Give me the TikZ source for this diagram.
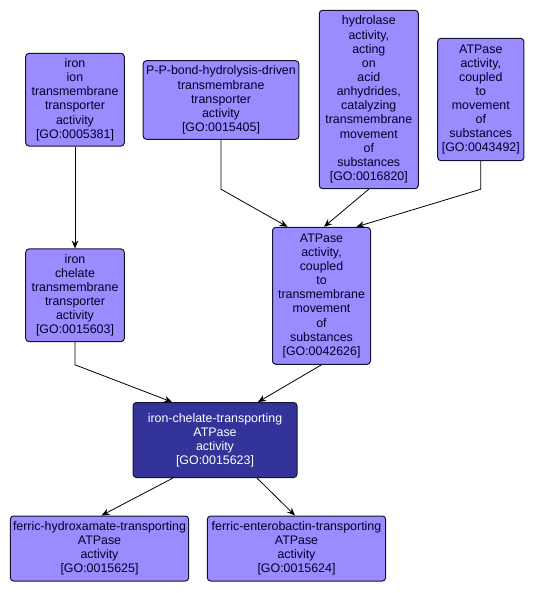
\documentclass[tikz,border=0pt]{standalone}
\usepackage{fontspec}
\setmainfont{Liberation Sans}
\usepackage{xcolor}
\usepackage{tikz}
\usetikzlibrary{calc,arrows.meta}

\definecolor{termfill}{RGB}{154,140,255}
\definecolor{focusfill}{RGB}{51,51,153}
\definecolor{termline}{RGB}{20,20,50}

\begin{document}
\begin{tikzpicture}[
    x=0.75pt, y=-0.75pt,
    term/.style={draw=termline, rounded corners=2.5pt, align=center, inner sep=0pt,
                 font=\fontsize{9.3}{10.6}\selectfont, fill=termfill, text=black!85!blue,
                 line width=0.75pt},
    arrow/.style={-{Stealth[length=6pt,width=5pt,inset=2pt]}, line width=0.6pt}
  ]
    \useasboundingbox (0,0) rectangle (534,593);
    % top row
    \node[term, minimum width=74pt, minimum height=69.5pt] (t5381) at (75,99.7)
      {iron\\ion\\transmembrane\\transporter\\activity\\{[GO:0005381]}};
    \node[term, minimum width=116.8pt, minimum height=59pt] (t15405) at (221,100)
      {P-P-bond-hydrolysis-driven\\transmembrane\\transporter\\activity\\{[GO:0015405]}};
    \node[term, minimum width=74.3pt, minimum height=133.8pt] (t16820) at (368.8,99.5)
      {hydrolase\\activity,\\acting\\on\\acid\\anhydrides,\\catalyzing\\transmembrane\\movement\\of\\substances\\{[GO:0016820]}};
    \node[term, minimum width=64.7pt, minimum height=91.8pt] (t43492) at (480.8,99.5)
      {ATPase\\activity,\\coupled\\to\\movement\\of\\substances\\{[GO:0043492]}};
    % middle row
    \node[term, minimum width=74pt, minimum height=69.5pt] (t15603) at (75,295.3)
      {iron\\chelate\\transmembrane\\transporter\\activity\\{[GO:0015603]}};
    \node[term, minimum width=73.5pt, minimum height=102.75pt] (t42626) at (321.5,295.8)
      {ATPase\\activity,\\coupled\\to\\transmembrane\\movement\\of\\substances\\{[GO:0042626]}};
    % focus term
    \node[term, fill=focusfill, text=white, minimum width=123pt, minimum height=56.25pt] (t15623) at (215,440)
      {iron-chelate-transporting\\ATPase\\activity\\{[GO:0015623]}};
    % bottom row
    \node[term, minimum width=133.8pt, minimum height=48.75pt] (t15625) at (99.5,548.5)
      {ferric-hydroxamate-transporting\\ATPase\\activity\\{[GO:0015625]}};
    \node[term, minimum width=133.8pt, minimum height=48.75pt] (t15624) at (296.5,548.5)
      {ferric-enterobactin-transporting\\ATPase\\activity\\{[GO:0015624]}};

    \draw[arrow] (t5381) -- (t15603);
    \draw[arrow] (t15405.south) -- (t15405.south |- t16820.south) -- ($(t42626.north)+(-34,0)$);
    \draw[arrow] (t16820.south) -- ($(t42626.north)+(2.5,0)$);
    \draw[arrow] (t43492.south) -- (t43492.south |- t16820.south) -- ($(t42626.north)+(35,0)$);
    \draw[arrow] (t15603.south) -- (t15603.south |- t42626.south) -- ($(t15623.north)+(-43,0)$);
    \draw[arrow] (t42626.south) -- ($(t15623.north)+(43,0)$);
    \draw[arrow] ($(t15623.south)+(-42,0)$) -- ($(t15625.north)+(2,0)$);
    \draw[arrow] ($(t15623.south)+(42,0)$) -- ($(t15624.north)+(-1.5,0)$);
  \end{tikzpicture}
\end{document}
